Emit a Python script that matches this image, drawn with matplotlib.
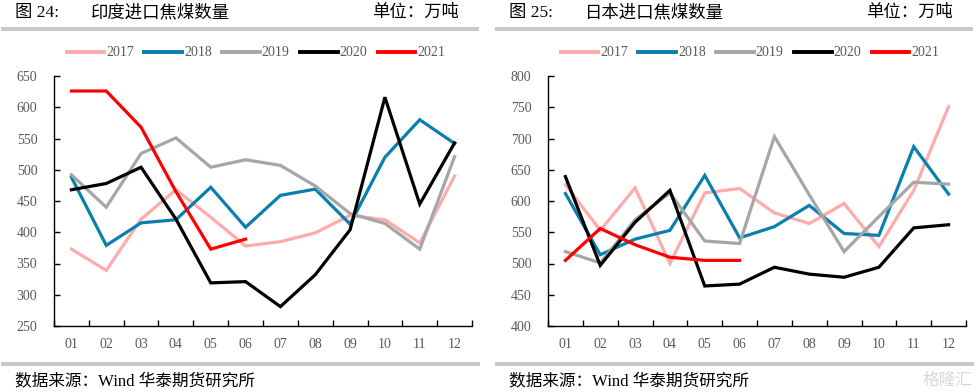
import matplotlib
matplotlib.use("Agg")
import matplotlib.pyplot as plt
from matplotlib.lines import Line2D

months = ["01", "02", "03", "04", "05", "06", "07", "08", "09", "10", "11", "12"]
years = ["2017", "2018", "2019", "2020", "2021"]
colors = ["#FFABAB", "#0A7FAE", "#A6A6A6", "#000000", "#FF0000"]

india_2017 = [373, 339, 421, 468, 424, 378, 385, 399, 427, 420, 383, 490]
india_2018 = [488, 379, 415, 420, 472, 408, 459, 469, 413, 520, 580, 542]
india_2019 = [492, 440, 526, 551, 504, 516, 507, 474, 430, 414, 373, 521]
india_2020 = [468, 478, 504, 421, 319, 321, 281, 332, 404, 616, 445, 543]
india_2021 = [626, 626, 568, 465, 373, 389]

japan_2017 = [626, 553, 621, 500, 613, 620, 581, 564, 596, 527, 617, 751]
japan_2018 = [612, 514, 539, 553, 641, 541, 559, 593, 548, 545, 687, 611]
japan_2019 = [519, 501, 570, 613, 536, 532, 703, 610, 519, 575, 630, 627]
japan_2020 = [639, 497, 566, 617, 464, 467, 494, 483, 478, 494, 557, 562]
japan_2021 = [505, 556, 530, 510, 505, 505]

india_series = [india_2017, india_2018, india_2019, india_2020, india_2021]
japan_series = [japan_2017, japan_2018, japan_2019, japan_2020, japan_2021]

plt.rcParams['font.family'] = ['Liberation Serif', 'Noto Sans CJK SC', 'DejaVu Sans']

W, H = 976, 392
fig = plt.figure(figsize=(W / 100, H / 100), dpi=100)

tick_color = "#595959"


def px(x, y):
    return x / W, 1 - y / H


def draw_panel(offset, series, ylim, yticks, fig_no, title):
    ax = fig.add_axes([(54 + offset) / W, 1 - 326 / H, 418 / W, 250 / H])
    xs = list(range(len(months)))
    for s, c, lab in zip(series, colors, years):
        ax.plot(xs[:len(s)], s, color=c, lw=2.3, label=lab, solid_joinstyle='miter', zorder=3)
    ax.set_xlim(-0.5, len(months) - 0.5)
    ax.set_ylim(*ylim)
    ax.set_yticks(yticks)
    ax.set_xticks(xs)
    ax.set_xticklabels(months)
    ax.set_xticks([i - 0.5 for i in range(len(months) + 1)], minor=True)
    ax.tick_params(axis='x', which='major', length=0, pad=9, labelsize=10, labelcolor=tick_color)
    ax.tick_params(axis='x', which='minor', length=4, direction='in', width=1)
    ax.tick_params(axis='y', length=4, direction='in', width=1, pad=12, labelsize=10, labelcolor=tick_color)
    for side in ['top', 'right']:
        ax.spines[side].set_visible(False)
    for side in ['left', 'bottom']:
        ax.spines[side].set_linewidth(1)
        ax.spines[side].set_color('black')

    handles = [Line2D([], [], color=c, lw=2.8) for c in colors]
    fig.legend(handles, years, loc='center', bbox_to_anchor=px(256 + offset, 53),
               ncol=5, frameon=False, fontsize=10, handlelength=2.7, handletextpad=0.15,
               columnspacing=0.75, labelcolor=tick_color)

    # header
    fig.text(*px(15 + offset, 13), fig_no, fontsize=12.5, va='center', ha='left')
    fig.text(*px(91 + offset, 13), title, fontsize=12.5, va='center', ha='left')
    fig.text(*px(459 + offset, 13), "单位：万吨", fontsize=12.5, va='center', ha='right')
    fig.add_artist(Line2D([(3 + offset) / W, (477 + offset) / W], [1 - 29 / H] * 2,
                          color="#C8C8C8", lw=2.8, transform=fig.transFigure))
    fig.add_artist(Line2D([(3 + offset) / W, (478 + offset) / W], [1 - 364 / H] * 2,
                          color="#C8C8C8", lw=2.8, transform=fig.transFigure))
    fig.text(*px(15 + offset, 381), "数据来源：Wind 华泰期货研究所", fontsize=12, va='center', ha='left')
    return ax


draw_panel(0, india_series, (250, 650), list(range(250, 651, 50)), "图 24:", "印度进口焦煤数量")
draw_panel(494, japan_series, (400, 800), list(range(400, 801, 50)), "图 25:", "日本进口焦煤数量")

fig.text(*px(972, 381), "格隆汇", fontsize=12, va='center', ha='right', color="#D8D8D8")

fig.savefig("out.png", dpi=100)
